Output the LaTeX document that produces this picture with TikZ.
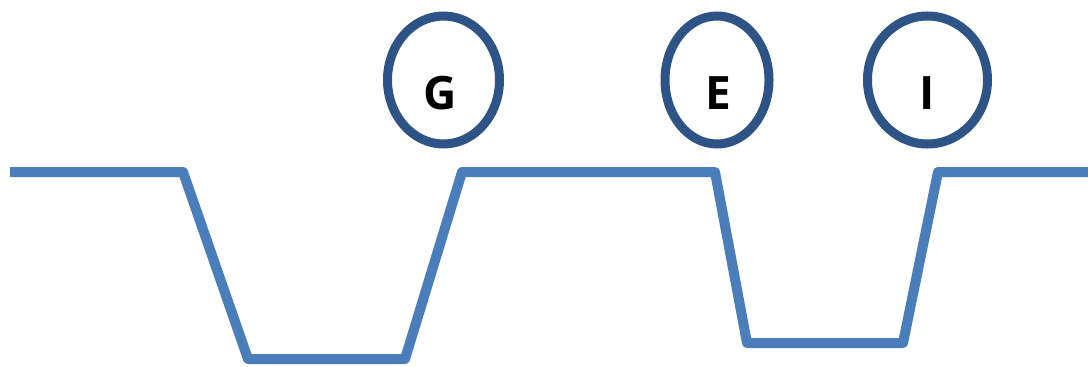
\documentclass[tikz,border=0pt]{standalone}
\usepackage{fontspec}
\setmainfont{Open Sans}
\usetikzlibrary{shapes.geometric}
\definecolor{wave}{HTML}{4A7EBB}
\definecolor{ringc}{HTML}{2E5386}
\tikzset{
  ring/.style={draw=ringc, line width=9pt, ellipse, inner sep=0pt, fill=none},
  lbl/.style={anchor=base, inner sep=0pt, font=\bfseries\fontsize{46}{46}\selectfont, text=black},
  wavestyle/.style={draw=wave, line width=10pt, line join=round, line cap=butt}
}
\begin{document}
\begin{tikzpicture}[x=1pt,y=-1pt]
\useasboundingbox[fill=white] (0,0) rectangle (1088,367);
% rings
\node[ring, minimum width=112pt, minimum height=128pt] (rG) at (443.5,80) {};
\node[ring, minimum width=104pt, minimum height=128pt] (rE) at (717,80) {};
\node[ring, minimum width=120pt, minimum height=128pt] (rI) at (927.5,80) {};
\node[lbl] (tG) at (440,109) {G};
\node[lbl] (tE) at (718,109) {E};
\node[lbl] (tI) at (927,109) {I};
% waveform
\coordinate (p0) at (10,172);
\coordinate (p1) at (183,172);
\coordinate (p2) at (248,359);
\coordinate (p3) at (405,359);
\coordinate (p4) at (462,172);
\coordinate (p5) at (715,172);
\coordinate (p6) at (747,343);
\coordinate (p7) at (903,343);
\coordinate (p8) at (938,172);
\coordinate (p9) at (1088,172);
\draw[wavestyle] (p0) -- (p1) -- (p2) -- (p3) -- (p4) -- (p5) -- (p6) -- (p7) -- (p8) -- (p9);
\end{tikzpicture}
\end{document}
